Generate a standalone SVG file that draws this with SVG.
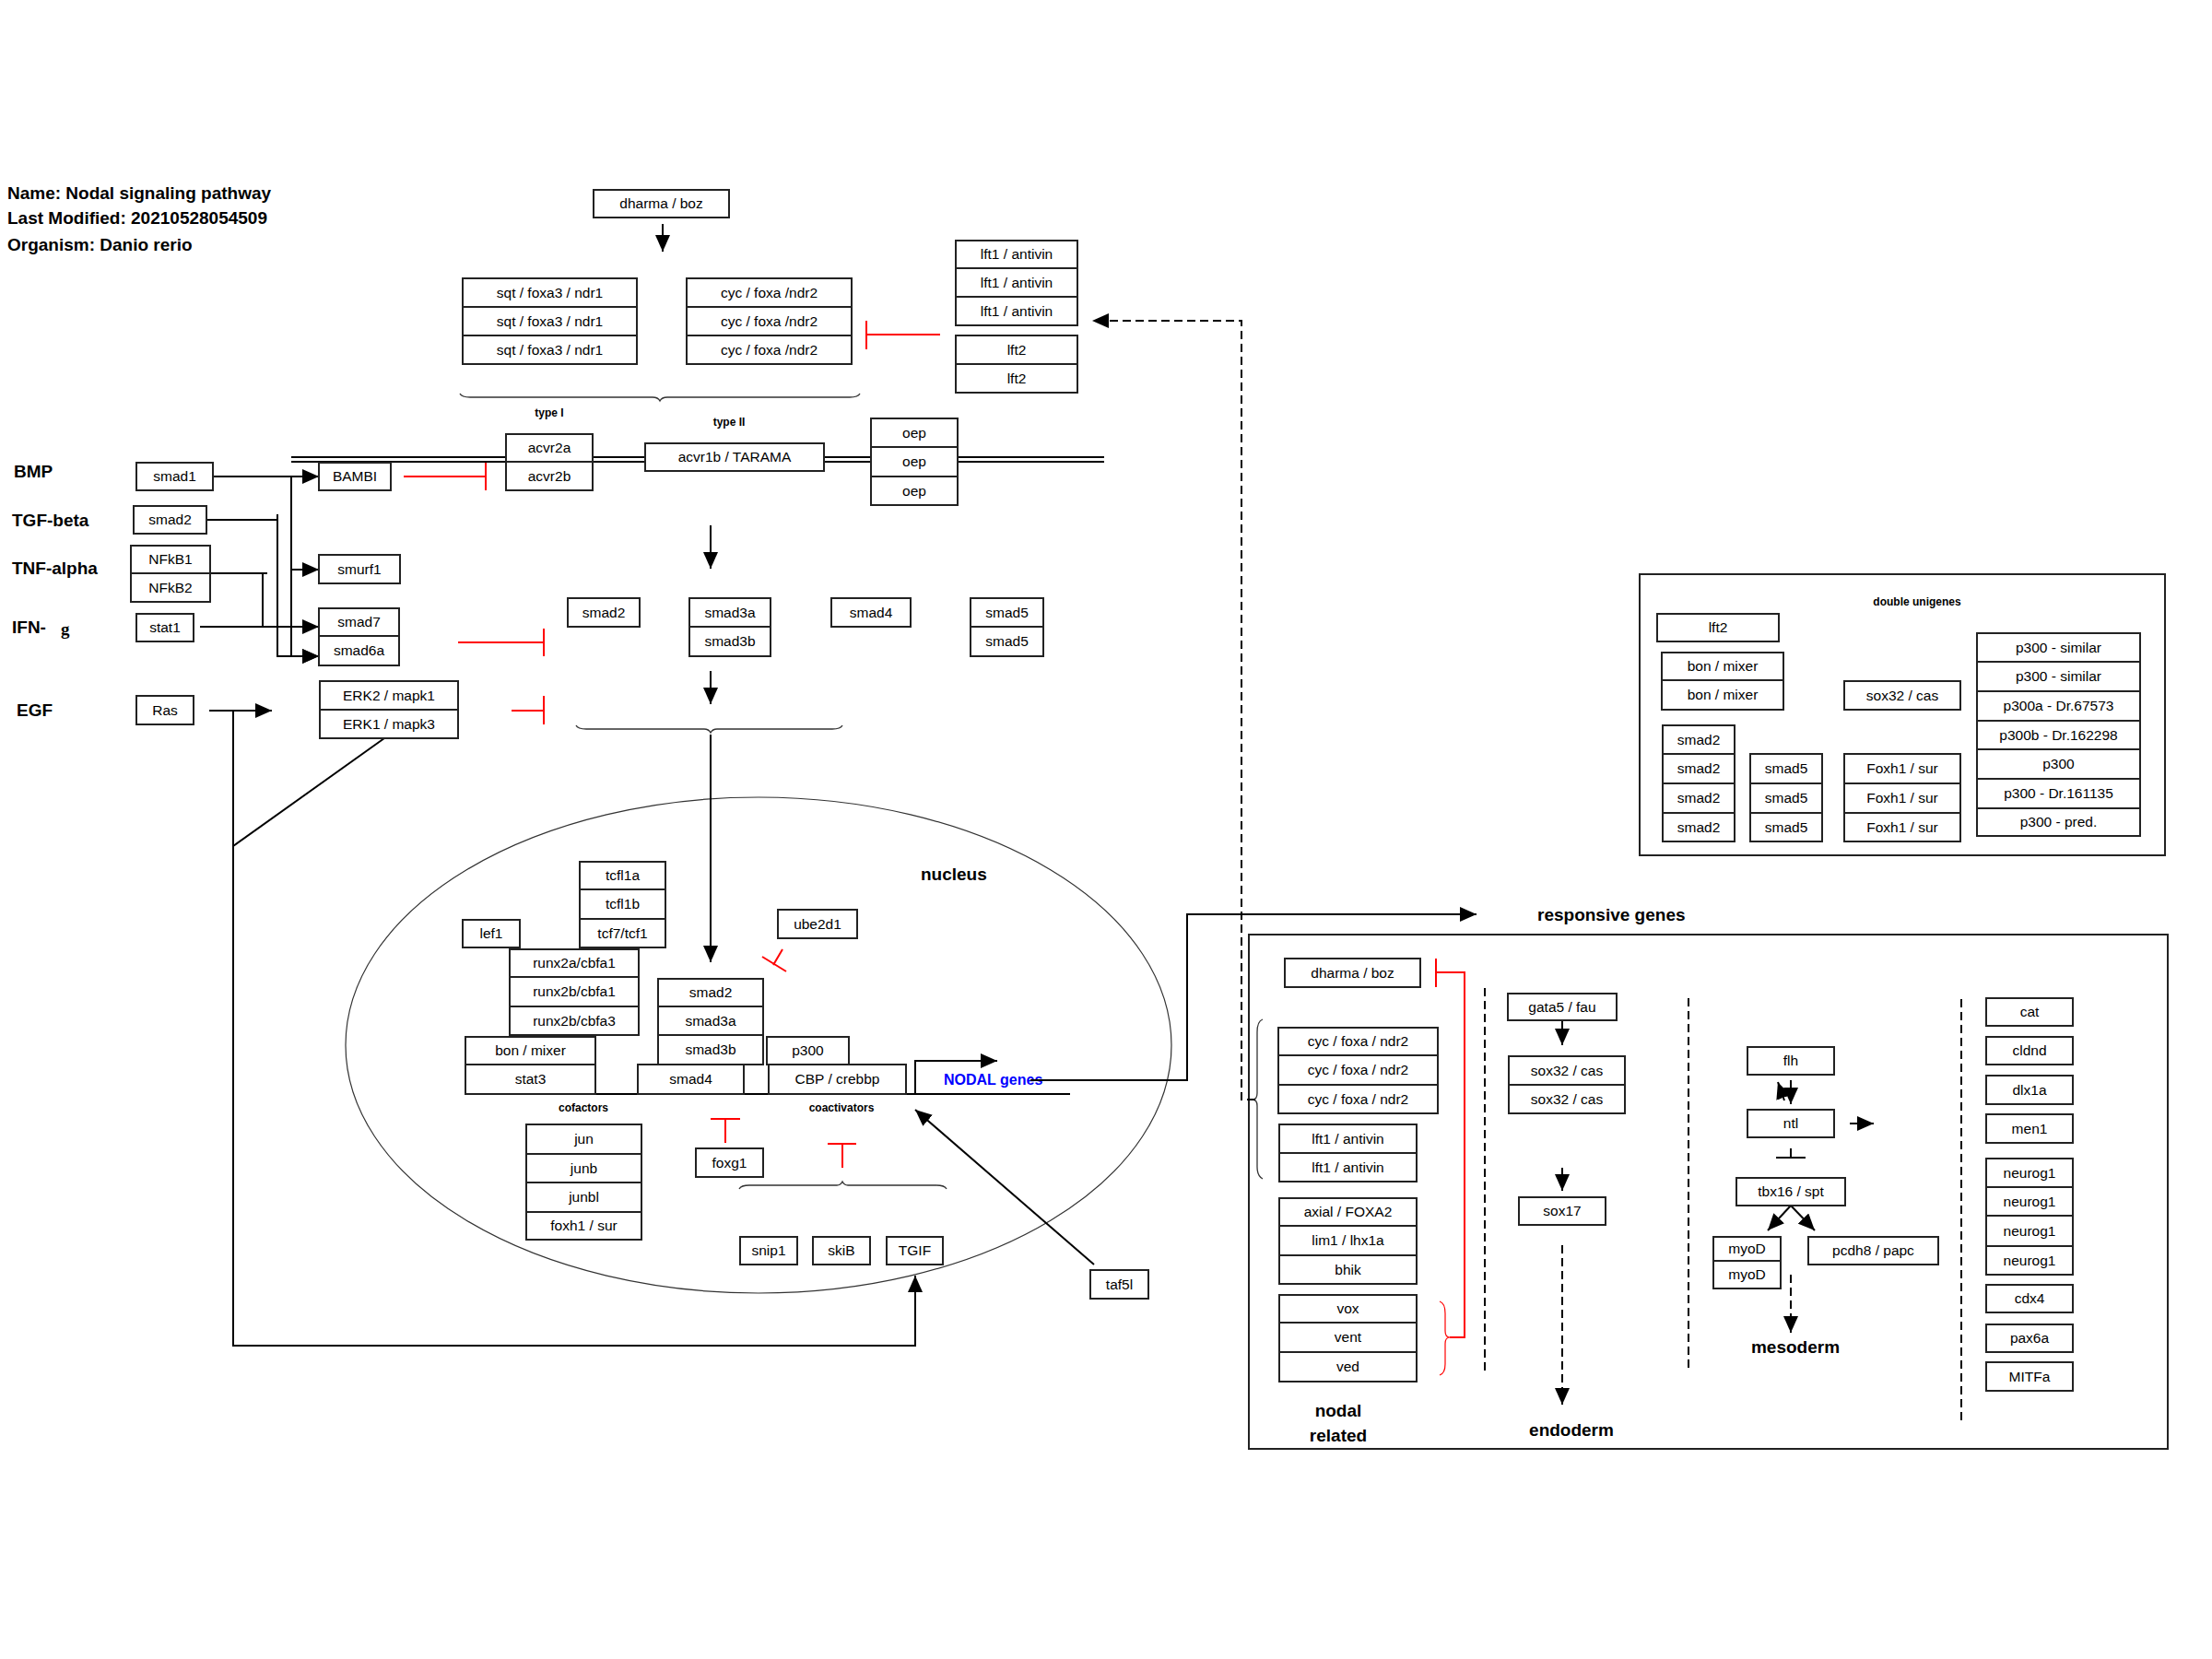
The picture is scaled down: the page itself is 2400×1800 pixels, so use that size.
<svg xmlns="http://www.w3.org/2000/svg" width="2400" height="1800" viewBox="0 0 2400 1800">
<defs>
<style>
rect.b{fill:#fff;stroke:#222;stroke-width:2}
text.t{font-family:"Liberation Sans",Arial,sans-serif;font-size:15.5px;text-anchor:middle;fill:#000}
text.h{font-family:"Liberation Sans",Arial,sans-serif;font-size:19px;font-weight:bold;fill:#000}
text.s{font-family:"Liberation Sans",Arial,sans-serif;font-size:12px;font-weight:bold;text-anchor:middle;fill:#000}
.c{fill:none;stroke:#000;stroke-width:2}
.d{fill:none;stroke:#000;stroke-width:2;stroke-dasharray:9 5}
.r{fill:none;stroke:#ff0000;stroke-width:2}
.br{fill:none;stroke:#333;stroke-width:1.3}
</style>
<marker id="ah" viewBox="0 0 18 16" refX="18" refY="8" markerWidth="18" markerHeight="16" markerUnits="userSpaceOnUse" orient="auto"><path d="M0,0 L18,8 L0,16 z" fill="#000"/></marker>
</defs>
<rect x="0" y="0" width="2400" height="1800" fill="#fff"/>

<g id="labels">
<text class="h" x="8" y="216">Name: Nodal signaling pathway</text>
<text class="h" x="8" y="243">Last Modified: 20210528054509</text>
<text class="h" x="8" y="272">Organism: Danio rerio</text>
<text class="h" x="15" y="518">BMP</text>
<text class="h" x="13" y="571">TGF-beta</text>
<text class="h" x="13" y="623">TNF-alpha</text>
<text class="h" x="13" y="687">IFN-</text>
<text class="h" x="66" y="689" style="font-family:'Liberation Serif',serif">g</text>
<text class="h" x="18" y="777">EGF</text>
<text class="s" x="596" y="452">type I</text>
<text class="s" x="791" y="462">type II</text>
<text class="h" x="999" y="955">nucleus</text>
<text class="s" x="633" y="1206">cofactors</text>
<text class="s" x="913" y="1206">coactivators</text>
<text class="h" x="1024" y="1177" style="font-size:16px;fill:#0000ff">NODAL genes</text>
<text class="h" x="1668" y="999">responsive genes</text>
<text class="s" x="2080" y="657">double unigenes</text>
<text class="h" x="1452" y="1537" text-anchor="middle">nodal</text>
<text class="h" x="1452" y="1564" text-anchor="middle">related</text>
<text class="h" x="1705" y="1558" text-anchor="middle">endoderm</text>
<text class="h" x="1948" y="1468" text-anchor="middle">mesoderm</text>
</g>

<g id="compartments">
<path class="c" d="M316,496 H1198 M316,501 H1198"/>
<ellipse cx="823" cy="1134" rx="448" ry="269" fill="none" stroke="#333" stroke-width="1.2"/>
<rect x="1779" y="623" width="570" height="305" fill="none" stroke="#222" stroke-width="2"/>
<rect x="1355" y="1014" width="997" height="558" fill="none" stroke="#222" stroke-width="2"/>
<path class="d" d="M1611,1072 V1489 M1832,1083 V1488 M2128,1084 V1542"/>
<path class="br" d="M499,427 Q501,431 510,431 L708,431 Q714,431 716,435 Q718,431 724,431 L922,431 Q931,431 933,427"/>
<path class="br" d="M625,787 Q627,791 636,791 L764,791 Q769,791 771,795 Q773,791 778,791 L903,791 Q912,791 914,787"/>
<path class="br" d="M802,1290 Q804,1286 813,1286 L908,1286 Q912,1286 914,1282 Q916,1286 920,1286 L1016,1286 Q1025,1286 1027,1290"/>
<path class="br" d="M1370,1106 Q1364,1108 1364,1120 L1364,1186 Q1364,1193 1359,1193 Q1364,1193 1364,1200 L1364,1266 Q1364,1276 1370,1279"/>
<path class="r" style="stroke-width:1.2" d="M1562,1412 Q1568,1414 1568,1425 L1568,1444 Q1568,1451 1573,1451 Q1568,1451 1568,1458 L1568,1480 Q1568,1490 1562,1492"/>
</g>

<g id="connectors">
<path class="c" d="M719,243 V273" marker-end="url(#ah)"/>
<path class="c" d="M231,517 H346" marker-end="url(#ah)"/>
<path class="c" d="M316,517 V712 H346" marker-end="url(#ah)"/>
<path class="c" d="M316,618 H346" marker-end="url(#ah)"/>
<path class="c" d="M224,564 H301 V712 H346" marker-end="url(#ah)"/>
<path class="c" d="M301,558 V564"/>
<path class="c" d="M228,622 H290 M285,622 V680"/>
<path class="c" d="M217,680 H346" marker-end="url(#ah)"/>
<path class="c" d="M227,771 H295" marker-end="url(#ah)"/>
<path class="c" d="M253,771 V1460 H993 V1384" marker-end="url(#ah)"/>
<path class="c" d="M417,801 L253,918"/>
<path class="c" d="M771,570 V617" marker-end="url(#ah)"/>
<path class="c" d="M771,728 V764" marker-end="url(#ah)"/>
<path class="c" d="M771,797 V1044" marker-end="url(#ah)"/>
<path class="c" d="M544,1187 H1161"/>
<path class="c" d="M993,1187 V1151 H1082" marker-end="url(#ah)"/>
<path class="c" d="M1118,1172 H1288 V992 H1602" marker-end="url(#ah)"/>
<path class="c" d="M1187,1372 L993,1204" marker-end="url(#ah)"/>
<path class="d" d="M1362,1193 H1347 V348 H1185" marker-end="url(#ah)"/>
<path class="c" d="M1695,1107 V1134" marker-end="url(#ah)"/>
<path class="c" d="M1695,1267 V1292" marker-end="url(#ah)"/>
<path class="d" d="M1695,1351 V1524" marker-end="url(#ah)"/>
<path class="c" d="M1943,1172 V1198" marker-end="url(#ah)"/>
<path class="c" d="M1936,1194 L1929,1174" marker-end="url(#ah)"/>
<path class="c" d="M2007,1219 H2033" marker-end="url(#ah)"/>
<path class="c" d="M1943,1246 V1256 M1927,1256 H1959"/>
<path class="c" d="M1943,1308 L1918,1335" marker-end="url(#ah)"/>
<path class="c" d="M1943,1308 L1969,1335" marker-end="url(#ah)"/>
<path class="d" d="M1943,1383 V1446" marker-end="url(#ah)"/>
<path class="r" d="M1020,363 H940 M940,348 V379"/>
<path class="r" d="M438,517 H527 M527,502 V532"/>
<path class="r" d="M497,697 H590 M590,682 V712"/>
<path class="r" d="M555,771 H590 M590,755 V786"/>
<path class="r" d="M849,1030 L839,1047 M827,1038 L853,1054"/>
<path class="r" d="M787,1240 V1214 M771,1214 H803"/>
<path class="r" d="M914,1267 V1241 M898,1241 H929"/>
<path class="r" d="M1558,1040 V1071 M1558,1055 H1589 V1451 H1573"/>
</g>

<g id="n_dharma1"><rect class="b" x="644" y="206" width="147" height="30"/><text class="t" x="717.5" y="226">dharma / boz</text></g>
<g id="n_sqt1"><rect class="b" x="502" y="302" width="189" height="31"/><text class="t" x="596.5" y="322.5">sqt / foxa3 / ndr1</text></g>
<g id="n_sqt2"><rect class="b" x="502" y="333" width="189" height="31"/><text class="t" x="596.5" y="353.5">sqt / foxa3 / ndr1</text></g>
<g id="n_sqt3"><rect class="b" x="502" y="364" width="189" height="31"/><text class="t" x="596.5" y="384.5">sqt / foxa3 / ndr1</text></g>
<g id="n_cyc1"><rect class="b" x="745" y="302" width="179" height="31"/><text class="t" x="834.5" y="322.5">cyc / foxa /ndr2</text></g>
<g id="n_cyc2"><rect class="b" x="745" y="333" width="179" height="31"/><text class="t" x="834.5" y="353.5">cyc / foxa /ndr2</text></g>
<g id="n_cyc3"><rect class="b" x="745" y="364" width="179" height="31"/><text class="t" x="834.5" y="384.5">cyc / foxa /ndr2</text></g>
<g id="n_lft1a"><rect class="b" x="1037" y="261" width="132" height="30"/><text class="t" x="1103" y="281">lft1 / antivin</text></g>
<g id="n_lft1b"><rect class="b" x="1037" y="291" width="132" height="31"/><text class="t" x="1103" y="311.5">lft1 / antivin</text></g>
<g id="n_lft1c"><rect class="b" x="1037" y="322" width="132" height="31"/><text class="t" x="1103" y="342.5">lft1 / antivin</text></g>
<g id="n_lft2a"><rect class="b" x="1037" y="364" width="132" height="31"/><text class="t" x="1103" y="384.5">lft2</text></g>
<g id="n_lft2b"><rect class="b" x="1037" y="395" width="132" height="31"/><text class="t" x="1103" y="415.5">lft2</text></g>
<g id="n_acvr2a"><rect class="b" x="549" y="471" width="94" height="30"/><text class="t" x="596" y="491">acvr2a</text></g>
<g id="n_acvr2b"><rect class="b" x="549" y="501" width="94" height="31"/><text class="t" x="596" y="521.5">acvr2b</text></g>
<g id="n_acvr1b"><rect class="b" x="700" y="481" width="194" height="30"/><text class="t" x="797" y="501">acvr1b / TARAMA</text></g>
<g id="n_oep1"><rect class="b" x="945" y="454" width="94" height="31"/><text class="t" x="992" y="474.5">oep</text></g>
<g id="n_oep2"><rect class="b" x="945" y="485" width="94" height="32"/><text class="t" x="992" y="506">oep</text></g>
<g id="n_oep3"><rect class="b" x="945" y="517" width="94" height="31"/><text class="t" x="992" y="537.5">oep</text></g>
<g id="n_smad1"><rect class="b" x="148" y="502" width="83" height="30"/><text class="t" x="189.5" y="522">smad1</text></g>
<g id="n_smad2L"><rect class="b" x="145" y="549" width="79" height="30"/><text class="t" x="184.5" y="569">smad2</text></g>
<g id="n_nfkb1"><rect class="b" x="142" y="592" width="86" height="30"/><text class="t" x="185" y="612">NFkB1</text></g>
<g id="n_nfkb2"><rect class="b" x="142" y="622" width="86" height="31"/><text class="t" x="185" y="642.5">NFkB2</text></g>
<g id="n_stat1"><rect class="b" x="148" y="666" width="62" height="30"/><text class="t" x="179" y="686">stat1</text></g>
<g id="n_ras"><rect class="b" x="148" y="755" width="62" height="31"/><text class="t" x="179" y="775.5">Ras</text></g>
<g id="n_bambi"><rect class="b" x="346" y="502" width="78" height="30"/><text class="t" x="385" y="522">BAMBI</text></g>
<g id="n_smurf1"><rect class="b" x="346" y="602" width="88" height="31"/><text class="t" x="390" y="622.5">smurf1</text></g>
<g id="n_smad7"><rect class="b" x="346" y="660" width="87" height="30"/><text class="t" x="389.5" y="680">smad7</text></g>
<g id="n_smad6a"><rect class="b" x="346" y="690" width="87" height="32"/><text class="t" x="389.5" y="711">smad6a</text></g>
<g id="n_erk2"><rect class="b" x="347" y="739" width="150" height="31"/><text class="t" x="422" y="759.5">ERK2 / mapk1</text></g>
<g id="n_erk1"><rect class="b" x="347" y="770" width="150" height="31"/><text class="t" x="422" y="790.5">ERK1 / mapk3</text></g>
<g id="n_smad2"><rect class="b" x="616" y="649" width="78" height="31"/><text class="t" x="655" y="669.5">smad2</text></g>
<g id="n_smad3a"><rect class="b" x="748" y="649" width="88" height="31"/><text class="t" x="792" y="669.5">smad3a</text></g>
<g id="n_smad3b"><rect class="b" x="748" y="680" width="88" height="32"/><text class="t" x="792" y="701">smad3b</text></g>
<g id="n_smad4"><rect class="b" x="902" y="649" width="86" height="31"/><text class="t" x="945" y="669.5">smad4</text></g>
<g id="n_smad5a"><rect class="b" x="1053" y="649" width="79" height="31"/><text class="t" x="1092.5" y="669.5">smad5</text></g>
<g id="n_smad5b"><rect class="b" x="1053" y="680" width="79" height="32"/><text class="t" x="1092.5" y="701">smad5</text></g>

<g id="n_tcfl1a"><rect class="b" x="629" y="935" width="93" height="30"/><text class="t" x="675.5" y="955">tcfl1a</text></g>
<g id="n_tcfl1b"><rect class="b" x="629" y="965" width="93" height="32"/><text class="t" x="675.5" y="986">tcfl1b</text></g>
<g id="n_tcf7"><rect class="b" x="629" y="997" width="93" height="31"/><text class="t" x="675.5" y="1017.5">tcf7/tcf1</text></g>
<g id="n_lef1"><rect class="b" x="502" y="998" width="62" height="30"/><text class="t" x="533" y="1018">lef1</text></g>
<g id="n_runx1"><rect class="b" x="553" y="1030" width="140" height="30"/><text class="t" x="623" y="1050">runx2a/cbfa1</text></g>
<g id="n_runx2"><rect class="b" x="553" y="1060" width="140" height="32"/><text class="t" x="623" y="1081">runx2b/cbfa1</text></g>
<g id="n_runx3"><rect class="b" x="553" y="1092" width="140" height="31"/><text class="t" x="623" y="1112.5">runx2b/cbfa3</text></g>
<g id="n_bon"><rect class="b" x="505" y="1125" width="141" height="30"/><text class="t" x="575.5" y="1145">bon / mixer</text></g>
<g id="n_stat3"><rect class="b" x="505" y="1155" width="141" height="32"/><text class="t" x="575.5" y="1176">stat3</text></g>
<g id="n_smad2n"><rect class="b" x="714" y="1062" width="114" height="30"/><text class="t" x="771" y="1082">smad2</text></g>
<g id="n_smad3an"><rect class="b" x="714" y="1092" width="114" height="31"/><text class="t" x="771" y="1112.5">smad3a</text></g>
<g id="n_smad3bn"><rect class="b" x="714" y="1123" width="114" height="32"/><text class="t" x="771" y="1144">smad3b</text></g>
<g id="n_smad4n"><rect class="b" x="692" y="1155" width="115" height="32"/><text class="t" x="749.5" y="1176">smad4</text></g>
<g id="n_p300n"><rect class="b" x="832" y="1125" width="89" height="30"/><text class="t" x="876.5" y="1145">p300</text></g>
<g id="n_cbp"><rect class="b" x="834" y="1155" width="149" height="32"/><text class="t" x="908.5" y="1176">CBP / crebbp</text></g>
<g id="n_ube2d1"><rect class="b" x="844" y="987" width="86" height="31"/><text class="t" x="887" y="1007.5">ube2d1</text></g>
<g id="n_jun"><rect class="b" x="571" y="1220" width="125" height="32"/><text class="t" x="633.5" y="1241">jun</text></g>
<g id="n_junb"><rect class="b" x="571" y="1252" width="125" height="31"/><text class="t" x="633.5" y="1272.5">junb</text></g>
<g id="n_junbl"><rect class="b" x="571" y="1283" width="125" height="32"/><text class="t" x="633.5" y="1304">junbl</text></g>
<g id="n_foxh1"><rect class="b" x="571" y="1315" width="125" height="30"/><text class="t" x="633.5" y="1335">foxh1 / sur</text></g>
<g id="n_foxg1"><rect class="b" x="755" y="1246" width="73" height="31"/><text class="t" x="791.5" y="1266.5">foxg1</text></g>
<g id="n_snip1"><rect class="b" x="803" y="1342" width="62" height="30"/><text class="t" x="834" y="1362">snip1</text></g>
<g id="n_skib"><rect class="b" x="882" y="1342" width="62" height="30"/><text class="t" x="913" y="1362">skiB</text></g>
<g id="n_tgif"><rect class="b" x="962" y="1342" width="61" height="30"/><text class="t" x="992.5" y="1362">TGIF</text></g>
<g id="n_taf5l"><rect class="b" x="1183" y="1378" width="63" height="31"/><text class="t" x="1214.5" y="1398.5">taf5l</text></g>

<g id="n_du_lft2"><rect class="b" x="1798" y="666" width="132" height="30"/><text class="t" x="1864" y="686">lft2</text></g>
<g id="n_du_bon1"><rect class="b" x="1803" y="708" width="132" height="30"/><text class="t" x="1869" y="728">bon / mixer</text></g>
<g id="n_du_bon2"><rect class="b" x="1803" y="738" width="132" height="32"/><text class="t" x="1869" y="759">bon / mixer</text></g>
<g id="n_du_sox32"><rect class="b" x="2001" y="739" width="126" height="31"/><text class="t" x="2064" y="759.5">sox32 / cas</text></g>
<g id="n_du_smad2a"><rect class="b" x="1804" y="787" width="78" height="31"/><text class="t" x="1843" y="807.5">smad2</text></g>
<g id="n_du_smad2b"><rect class="b" x="1804" y="818" width="78" height="32"/><text class="t" x="1843" y="839">smad2</text></g>
<g id="n_du_smad2c"><rect class="b" x="1804" y="850" width="78" height="32"/><text class="t" x="1843" y="871">smad2</text></g>
<g id="n_du_smad2d"><rect class="b" x="1804" y="882" width="78" height="31"/><text class="t" x="1843" y="902.5">smad2</text></g>
<g id="n_du_smad5a"><rect class="b" x="1899" y="818" width="78" height="32"/><text class="t" x="1938" y="839">smad5</text></g>
<g id="n_du_smad5b"><rect class="b" x="1899" y="850" width="78" height="32"/><text class="t" x="1938" y="871">smad5</text></g>
<g id="n_du_smad5c"><rect class="b" x="1899" y="882" width="78" height="31"/><text class="t" x="1938" y="902.5">smad5</text></g>
<g id="n_du_foxh1a"><rect class="b" x="2001" y="818" width="126" height="32"/><text class="t" x="2064" y="839">Foxh1 / sur</text></g>
<g id="n_du_foxh1b"><rect class="b" x="2001" y="850" width="126" height="32"/><text class="t" x="2064" y="871">Foxh1 / sur</text></g>
<g id="n_du_foxh1c"><rect class="b" x="2001" y="882" width="126" height="31"/><text class="t" x="2064" y="902.5">Foxh1 / sur</text></g>
<g id="n_du_p300a"><rect class="b" x="2145" y="687" width="177" height="31"/><text class="t" x="2233.5" y="707.5">p300 - similar</text></g>
<g id="n_du_p300b"><rect class="b" x="2145" y="718" width="177" height="32"/><text class="t" x="2233.5" y="739">p300 - similar</text></g>
<g id="n_du_p300c"><rect class="b" x="2145" y="750" width="177" height="32"/><text class="t" x="2233.5" y="771">p300a - Dr.67573</text></g>
<g id="n_du_p300d"><rect class="b" x="2145" y="782" width="177" height="31"/><text class="t" x="2233.5" y="802.5">p300b - Dr.162298</text></g>
<g id="n_du_p300e"><rect class="b" x="2145" y="813" width="177" height="32"/><text class="t" x="2233.5" y="834">p300</text></g>
<g id="n_du_p300f"><rect class="b" x="2145" y="845" width="177" height="32"/><text class="t" x="2233.5" y="866">p300 - Dr.161135</text></g>
<g id="n_du_p300g"><rect class="b" x="2145" y="877" width="177" height="30"/><text class="t" x="2233.5" y="897">p300 - pred.</text></g>

<g id="n_rg_dharma"><rect class="b" x="1394" y="1040" width="147" height="31"/><text class="t" x="1467.5" y="1060.5">dharma / boz</text></g>
<g id="n_rg_cyc1"><rect class="b" x="1387" y="1115" width="173" height="30"/><text class="t" x="1473.5" y="1135">cyc / foxa / ndr2</text></g>
<g id="n_rg_cyc2"><rect class="b" x="1387" y="1145" width="173" height="32"/><text class="t" x="1473.5" y="1166">cyc / foxa / ndr2</text></g>
<g id="n_rg_cyc3"><rect class="b" x="1387" y="1177" width="173" height="31"/><text class="t" x="1473.5" y="1197.5">cyc / foxa / ndr2</text></g>
<g id="n_rg_lft1a"><rect class="b" x="1388" y="1220" width="149" height="31"/><text class="t" x="1462.5" y="1240.5">lft1 / antivin</text></g>
<g id="n_rg_lft1b"><rect class="b" x="1388" y="1251" width="149" height="31"/><text class="t" x="1462.5" y="1271.5">lft1 / antivin</text></g>
<g id="n_rg_axial"><rect class="b" x="1388" y="1300" width="149" height="30"/><text class="t" x="1462.5" y="1320">axial / FOXA2</text></g>
<g id="n_rg_lim1"><rect class="b" x="1388" y="1330" width="149" height="32"/><text class="t" x="1462.5" y="1351">lim1 / lhx1a</text></g>
<g id="n_rg_bhik"><rect class="b" x="1388" y="1362" width="149" height="31"/><text class="t" x="1462.5" y="1382.5">bhik</text></g>
<g id="n_rg_vox"><rect class="b" x="1388" y="1405" width="149" height="30"/><text class="t" x="1462.5" y="1425">vox</text></g>
<g id="n_rg_vent"><rect class="b" x="1388" y="1435" width="149" height="32"/><text class="t" x="1462.5" y="1456">vent</text></g>
<g id="n_rg_ved"><rect class="b" x="1388" y="1467" width="149" height="32"/><text class="t" x="1462.5" y="1488">ved</text></g>
<g id="n_rg_gata5"><rect class="b" x="1636" y="1078" width="118" height="29"/><text class="t" x="1695" y="1097.5">gata5 / fau</text></g>
<g id="n_rg_sox32a"><rect class="b" x="1637" y="1146" width="126" height="31"/><text class="t" x="1700" y="1166.5">sox32 / cas</text></g>
<g id="n_rg_sox32b"><rect class="b" x="1637" y="1177" width="126" height="31"/><text class="t" x="1700" y="1197.5">sox32 / cas</text></g>
<g id="n_rg_sox17"><rect class="b" x="1648" y="1299" width="94" height="30"/><text class="t" x="1695" y="1319">sox17</text></g>
<g id="n_rg_flh"><rect class="b" x="1896" y="1136" width="94" height="30"/><text class="t" x="1943" y="1156">flh</text></g>
<g id="n_rg_ntl"><rect class="b" x="1896" y="1204" width="94" height="30"/><text class="t" x="1943" y="1224">ntl</text></g>
<g id="n_rg_tbx16"><rect class="b" x="1884" y="1278" width="118" height="30"/><text class="t" x="1943" y="1298">tbx16 / spt</text></g>
<g id="n_rg_myod1"><rect class="b" x="1859" y="1342" width="73" height="26"/><text class="t" x="1895.5" y="1360">myoD</text></g>
<g id="n_rg_myod2"><rect class="b" x="1859" y="1368" width="73" height="30"/><text class="t" x="1895.5" y="1388">myoD</text></g>
<g id="n_rg_pcdh8"><rect class="b" x="1962" y="1342" width="141" height="30"/><text class="t" x="2032.5" y="1362">pcdh8 / papc</text></g>
<g id="n_rg_cat"><rect class="b" x="2155" y="1083" width="94" height="30"/><text class="t" x="2202" y="1103">cat</text></g>
<g id="n_rg_cldnd"><rect class="b" x="2155" y="1125" width="94" height="30"/><text class="t" x="2202" y="1145">cldnd</text></g>
<g id="n_rg_dlx1a"><rect class="b" x="2155" y="1167" width="94" height="31"/><text class="t" x="2202" y="1187.5">dlx1a</text></g>
<g id="n_rg_men1"><rect class="b" x="2155" y="1209" width="94" height="31"/><text class="t" x="2202" y="1229.5">men1</text></g>
<g id="n_rg_neurog1a"><rect class="b" x="2155" y="1257" width="94" height="31"/><text class="t" x="2202" y="1277.5">neurog1</text></g>
<g id="n_rg_neurog1b"><rect class="b" x="2155" y="1288" width="94" height="31"/><text class="t" x="2202" y="1308.5">neurog1</text></g>
<g id="n_rg_neurog1c"><rect class="b" x="2155" y="1319" width="94" height="33"/><text class="t" x="2202" y="1340.5">neurog1</text></g>
<g id="n_rg_neurog1d"><rect class="b" x="2155" y="1352" width="94" height="31"/><text class="t" x="2202" y="1372.5">neurog1</text></g>
<g id="n_rg_cdx4"><rect class="b" x="2155" y="1394" width="94" height="30"/><text class="t" x="2202" y="1414">cdx4</text></g>
<g id="n_rg_pax6a"><rect class="b" x="2155" y="1437" width="94" height="30"/><text class="t" x="2202" y="1457">pax6a</text></g>
<g id="n_rg_mitfa"><rect class="b" x="2155" y="1478" width="94" height="31"/><text class="t" x="2202" y="1498.5">MITFa</text></g>
</svg>
